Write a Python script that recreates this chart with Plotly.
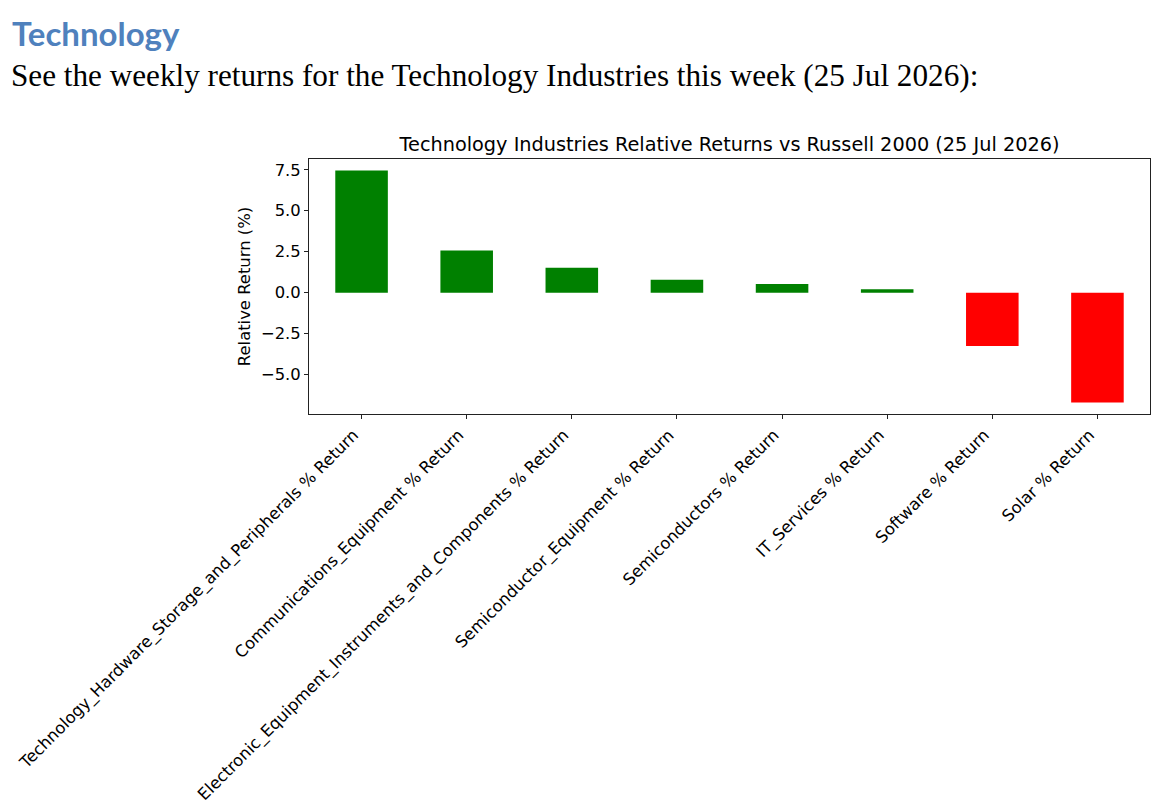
import plotly.graph_objects as go

# Weekly relative returns vs Russell 2000
industries = [
    "Technology_Hardware_Storage_and_Peripherals % Return",
    "Communications_Equipment % Return",
    "Electronic_Equipment_Instruments_and_Components % Return",
    "Semiconductor_Equipment % Return",
    "Semiconductors % Return",
    "IT_Services % Return",
    "Software % Return",
    "Solar % Return",
]
returns = [7.45, 2.58, 1.52, 0.78, 0.53, 0.21, -3.26, -6.70]
y_ticks = [-5.0, -2.5, 0.0, 2.5, 5.0, 7.5]

colors = ["green" if v > 0 else "red" for v in returns]

fig = go.Figure()
fig.add_trace(go.Bar(x=industries, y=returns, width=0.5, marker=dict(color=colors, line_width=0)))

# matplotlib-style 5% margins around the data
span = max(returns) - min(returns)
y_range = [min(returns) - 0.05 * span, max(returns) + 0.05 * span]

axis_font = dict(family="DejaVu Sans", size=16.4, color="black")

# page body has an 8px margin, so the figure is 8px smaller than the window
W, H = 1156, 804
L, R, T, B = 301, 14, 151, 398
pw, ph = W - L - R, H - T - B

fig.update_layout(
    width=W,
    height=H,
    margin=dict(l=L, r=R, t=T, b=B, autoexpand=False),
    paper_bgcolor="white",
    plot_bgcolor="white",
    showlegend=False,
    font=axis_font,
    title=dict(
        text="Technology Industries Relative Returns vs Russell 2000 (25 Jul 2026)",
        x=0.5, xref="paper", xanchor="center",
        y=1 - 136 / H, yref="container", yanchor="middle",
        font=dict(family="DejaVu Sans", size=19.3, color="black"),
    ),
    xaxis=dict(
        range=[-0.5, 7.5], tickangle=-45, showline=True, mirror=True, linecolor="#222",
        linewidth=1, ticks="outside", ticklen=4, tickcolor="#222", showgrid=False,
        tickfont=axis_font, ticklabelshift=-8, automargin=False,
    ),
    yaxis=dict(
        range=y_range, tickvals=y_ticks, tickformat=".1f", showline=True, mirror=True,
        linecolor="#222", linewidth=1, ticks="outside", ticklen=4, tickcolor="#222",
        showgrid=False, zeroline=False, tickfont=axis_font, automargin=False,
        title=dict(text="Relative Return (%)", font=axis_font, standoff=6),
    ),
)

# page text above the chart
fig.add_annotation(
    text="<b>Technology</b>", xref="paper", yref="paper", x=(2 - L) / pw, y=(H - B - 25) / ph,
    xanchor="left", yanchor="middle", showarrow=False,
    font=dict(family="Lato", size=33, color="#4F81BD"),
)
fig.add_annotation(
    text="See the weekly returns for the Technology Industries this week (25 Jul 2026):",
    xref="paper", yref="paper", x=(1 - L) / pw, y=(H - B - 67) / ph,
    xanchor="left", yanchor="middle", showarrow=False,
    font=dict(family="Liberation Serif", size=31.2, color="black"),
)

fig.write_html("out.html")
